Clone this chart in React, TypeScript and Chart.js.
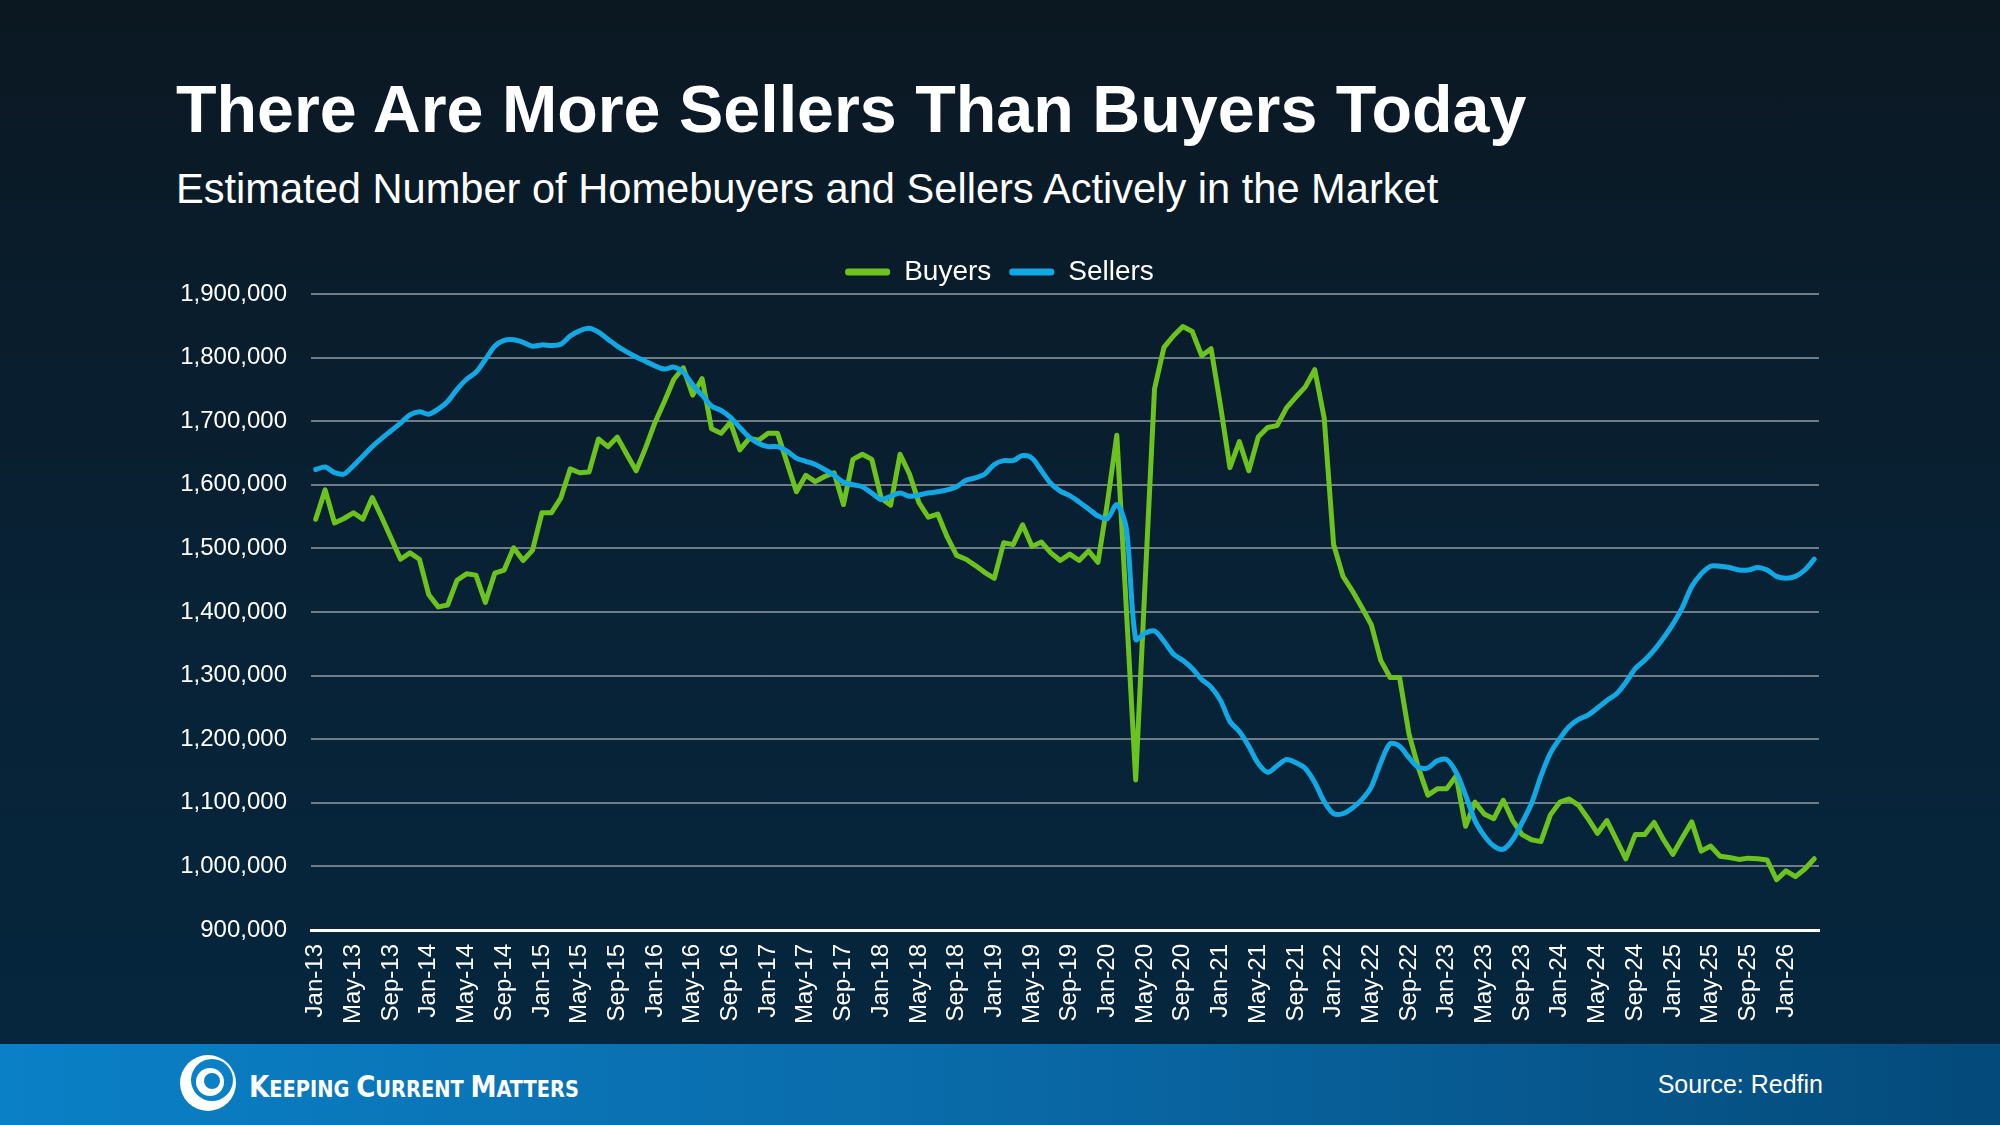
import { useEffect, useRef } from 'react';
import { Chart, registerables } from 'chart.js';

Chart.register(...registerables);

const FONT = "'Liberation Sans', Arial, Helvetica, sans-serif";

const MONTHS = ['Jan', 'Feb', 'Mar', 'Apr', 'May', 'Jun', 'Jul', 'Aug', 'Sep', 'Oct', 'Nov', 'Dec'];
const FIRST_YEAR = 13;
const MONTH_COUNT = 160; // Jan-13 .. Apr-26
const CATEGORIES: string[] = Array.from({ length: MONTH_COUNT }, (_, i) => `${MONTHS[i % 12]}-${FIRST_YEAR + Math.floor(i / 12)}`);

// Values in thousands
const BUYERS = [
  1546, 1592, 1540, 1547, 1556, 1546, 1580, 1549, 1516, 1483, 1493, 1483,
  1427, 1408, 1411, 1450, 1460, 1458, 1415, 1461, 1466, 1501, 1481, 1497,
  1556, 1556, 1579, 1625, 1619, 1620, 1672, 1660, 1675, 1648, 1622, 1658,
  1698, 1731, 1766, 1784, 1741, 1767, 1688, 1681, 1698, 1655, 1673, 1670,
  1681, 1681, 1635, 1589, 1615, 1605, 1613, 1619, 1569, 1640, 1648, 1640,
  1579, 1568, 1648, 1617, 1572, 1549, 1554, 1518, 1489, 1483, 1473, 1462,
  1453, 1509, 1506, 1537, 1503, 1510, 1493, 1481, 1491, 1481, 1496, 1478,
  1572, 1678, 1407, 1136, 1446, 1751, 1816, 1834, 1849, 1841, 1803, 1814,
  1724, 1627, 1668, 1622, 1675, 1690, 1693, 1721, 1738, 1754, 1781, 1705,
  1506, 1456, 1433, 1407, 1380, 1324, 1297, 1297, 1208, 1155, 1112, 1122,
  1122, 1142, 1063, 1101, 1082, 1075, 1104, 1072, 1050, 1042, 1039, 1081,
  1101, 1106, 1096, 1075, 1052, 1072, 1042, 1012, 1050, 1050, 1069, 1042,
  1019, 1045, 1070, 1024, 1032, 1016, 1014, 1011, 1013, 1012, 1010, 979,
  993, 984, 996, 1012,
];

const SELLERS = [
  1624, 1628, 1619, 1617, 1630, 1645, 1660, 1673, 1685, 1697, 1710, 1715,
  1711, 1719, 1731, 1750, 1766, 1777, 1797, 1818, 1827, 1828, 1824, 1818,
  1820, 1819, 1821, 1834, 1842, 1846, 1840, 1829, 1818, 1809, 1801, 1794,
  1787, 1782, 1785, 1777, 1757, 1741, 1724, 1717, 1706, 1690, 1675, 1665,
  1660, 1660, 1653, 1642, 1637, 1632, 1624, 1615, 1604, 1600, 1597, 1587,
  1577, 1582, 1587, 1582, 1584, 1587, 1589, 1592, 1597, 1607, 1611, 1617,
  1632, 1638, 1638, 1646, 1642, 1622, 1602, 1590, 1583, 1573, 1562, 1551,
  1547, 1569, 1532, 1357, 1367, 1370, 1354, 1334, 1324, 1311, 1294, 1282,
  1261, 1228, 1212, 1189, 1162, 1148, 1158, 1168, 1163, 1154, 1132, 1102,
  1083, 1083, 1092, 1105, 1125, 1163, 1193, 1189, 1171, 1156, 1155, 1166,
  1168, 1148, 1112, 1072, 1048, 1032, 1027, 1042, 1069, 1099, 1142, 1178,
  1201, 1220, 1231, 1238, 1249, 1261, 1271, 1289, 1311, 1324, 1340, 1359,
  1381, 1407, 1440, 1460, 1472, 1472, 1470, 1466, 1466, 1470, 1466, 1456,
  1453, 1456, 1466, 1483,
];

const Y_MIN = 900000;
const Y_MAX = 1900000;
const Y_STEP = 100000;

const GREEN = '#6cc21f';
const BLUE = '#12a8e4';

function ChartCanvas() {
  const ref = useRef<HTMLCanvasElement | null>(null);
  useEffect(() => {
    if (!ref.current) return;
    const chart = new Chart(ref.current, {
      type: 'line',
      data: {
        labels: CATEGORIES,
        datasets: [
          {
            label: 'Buyers',
            data: BUYERS.map((v) => v * 1000),
            borderColor: GREEN,
            backgroundColor: GREEN,
            borderWidth: 5,
            pointRadius: 0,
            tension: 0,
            borderJoinStyle: 'round',
            borderCapStyle: 'round',
            order: 2,
          },
          {
            label: 'Sellers',
            data: SELLERS.map((v) => v * 1000),
            borderColor: BLUE,
            backgroundColor: BLUE,
            borderWidth: 5,
            pointRadius: 0,
            tension: 0.3,
            borderJoinStyle: 'round',
            borderCapStyle: 'round',
            order: 1,
          },
        ],
      },
      options: {
        animation: false,
        responsive: false,
        devicePixelRatio: 1,
        layout: { padding: { left: 0, right: 21, top: 10, bottom: 0 } },
        plugins: {
          tooltip: { enabled: false },
          legend: {
            display: true,
            position: 'top',
            align: 'center',
            maxHeight: 54,
            labels: {
              color: '#ffffff',
              font: { size: 28, family: FONT },
              boxWidth: 45,
              boxHeight: 7,
              padding: 18,
              useBorderRadius: true,
              borderRadius: 3,
              generateLabels: (c: any) =>
                c.data.datasets.map((ds: any, i: number) => ({
                  text: ds.label,
                  fillStyle: ds.borderColor,
                  strokeStyle: ds.borderColor,
                  lineWidth: 0,
                  hidden: false,
                  datasetIndex: i,
                  fontColor: '#ffffff',
                  borderRadius: 3,
                })),
            },
          },
        },
        scales: {
          x: {
            type: 'category',
            offset: true,
            grid: { display: false, drawTicks: false },
            border: { display: true, color: '#ffffff', width: 3 },
            ticks: {
              autoSkip: false,
              maxRotation: 90,
              minRotation: 90,
              padding: 14,
              color: '#ffffff',
              font: { size: 24, family: FONT },
              callback: (_v: any, index: number) => (index % 4 === 0 ? CATEGORIES[index] : ''),
            },
            afterFit: (scale: any) => {
              scale.height = 110;
              scale.paddingLeft = 0;
              scale.paddingRight = 0;
            },
          },
          y: {
            min: Y_MIN,
            max: Y_MAX,
            grid: {
              drawTicks: false,
              lineWidth: 2,
              color: (ctx: any) => (ctx.tick && ctx.tick.value === Y_MIN ? 'rgba(0,0,0,0)' : '#6e7c88'),
            },
            border: { display: false },
            ticks: {
              stepSize: Y_STEP,
              padding: 24,
              color: '#ffffff',
              font: { size: 24, family: FONT },
              callback: (v: any) => Number(v).toLocaleString('en-US'),
            },
            afterFit: (scale: any) => {
              scale.width = 131;
            },
          },
        },
      },
    });
    return () => chart.destroy();
  }, []);
  return (
    <canvas
      ref={ref}
      width={1660}
      height={810}
      style={{ position: 'absolute', left: 180, top: 230, width: 1660, height: 810 }}
    />
  );
}

export default function App() {
  return (
    <div
      style={{
        position: 'absolute',
        left: 0,
        top: 0,
        width: 2000,
        height: 1125,
        overflow: 'hidden',
        background: 'linear-gradient(180deg, #0b1822 0%, #082236 55%, #04273f 100%)',
        fontFamily: FONT,
      }}
    >
      <div
        style={{
          position: 'absolute',
          left: 176,
          top: 76,
          fontSize: 66.4,
          lineHeight: '66px',
          fontWeight: 700,
          color: '#ffffff',
          whiteSpace: 'nowrap',
        }}
      >
        There Are More Sellers Than Buyers Today
      </div>
      <div
        style={{
          position: 'absolute',
          left: 176,
          top: 168,
          fontSize: 41.6,
          lineHeight: '41px',
          color: '#ffffff',
          whiteSpace: 'nowrap',
        }}
      >
        Estimated Number of Homebuyers and Sellers Actively in the Market
      </div>
      <ChartCanvas />
      <div
        style={{
          position: 'absolute',
          left: 0,
          top: 1044,
          width: 2000,
          height: 81,
          background: 'linear-gradient(90deg, #0a80c6 0%, #0a6cab 45%, #044a7a 100%)',
        }}
      >
        <svg width={2000} height={81} style={{ position: 'absolute', left: 0, top: 0 }}>
          <circle cx={208} cy={39} r={28} fill="#ffffff" />
          <circle cx={212} cy={36} r={21} fill="#0a80c6" />
          <circle cx={210} cy={38} r={14} fill="#ffffff" />
          <circle cx={212} cy={37} r={8} fill="#0a80c6" />
          <text
            x={249}
            y={53}
            fill="#ffffff"
            fontWeight="bold"
            fontFamily="'Liberation Sans Narrow', 'DejaVu Sans Condensed', 'Liberation Sans', sans-serif"
            textLength={330}
            lengthAdjust="spacingAndGlyphs"
          >
            <tspan fontSize={31}>K</tspan>
            <tspan fontSize={23}>EEPING </tspan>
            <tspan fontSize={31}>C</tspan>
            <tspan fontSize={23}>URRENT </tspan>
            <tspan fontSize={31}>M</tspan>
            <tspan fontSize={23}>ATTERS</tspan>
          </text>
        </svg>
        <div
          style={{
            position: 'absolute',
            right: 177,
            top: 28,
            fontSize: 25,
            lineHeight: '25px',
            color: '#ffffff',
            whiteSpace: 'nowrap',
          }}
        >
          Source: Redfin
        </div>
      </div>
    </div>
  );
}
